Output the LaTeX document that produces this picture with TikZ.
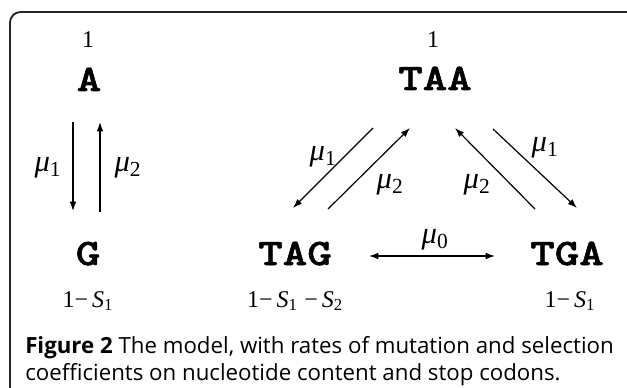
\documentclass[tikz,border=0pt]{standalone}
\usepackage{fontspec}
\setmainfont{Liberation Serif}
\newfontfamily\capfont{Open Sans}
\newfontfamily\codonfont{lmmonolt10-bold}[Extension=.otf, FakeBold=1.6, FakeStretch=1.25]
\usetikzlibrary{calc, arrows.meta}

\newcommand{\murate}[1]{\textit{μ}\textsubscript{#1}}
\newcommand{\selco}[1]{\textit{S}\textsubscript{#1}}

\begin{document}
\begin{tikzpicture}[x=0.75pt, y=-0.75pt, >={Latex[length=7pt, width=5pt]},
		codon/.style={font=\fontsize{28}{28}\selectfont\codonfont, inner sep=0, anchor=base},
		fitness/.style={font=\fontsize{18}{18}\selectfont, inner sep=0, anchor=base},
		mu/.style={font=\fontsize{23}{23}\selectfont, inner sep=0},
		move/.style={line width=0.9pt},
		caption/.style={font=\fontsize{16.7}{20}\selectfont\capfont, inner sep=0, anchor=base west}]
		\useasboundingbox (0,0) rectangle (627,388);
		\draw[line width=1.4pt, color=black!85, rounded corners=8pt] (10,395) -- (10,12) -- (635,12);

		% nucleotides
		\node[fitness] (oneA) at (88,48) {1};
		\node[codon] (A) at (89,91) {A};
		\node[codon] (G) at (88,265) {G};
		\node[fitness] (fitG) at (88,307) {1−\,\selco{1}};

		\draw[move, ->] ($(A.base)+(-16,31)$) -- ($(G.base)+(-15,-54)$);
		\draw[move, ->] ($(G.base)+(12,-53)$) -- ($(A.base)+(11,31)$);
		\node[mu] (muAG) at (48,168) {\murate{1}};
		\node[mu] (muGA) at (128,168) {\murate{2}};

		% stop codons
		\node[fitness] (oneTAA) at (433,48) {1};
		\node[codon] (TAA) at (435,90) {TAA};
		\node[codon] (TAG) at (295,265) {TAG};
		\node[codon] (TGA) at (567,265) {TGA};
		\node[fitness] (fitTAG) at (295,307) {1−\,\selco{1}\;−\,\selco{2}};
		\node[fitness] (fitTGA) at (570,307) {1−\,\selco{1}};

		\draw[move, ->] ($(TAA.base)+(-62,38)$) -- ($(TAG.base)+(-2,-57)$);
		\draw[move, ->] ($(TAG.base)+(33,-56)$) -- ($(TAA.base)+(-25,38)$);
		\draw[move, ->] ($(TGA.base)+(-32,-56)$) -- ($(TAA.base)+(20,38)$);
		\draw[move, ->] ($(TAA.base)+(58,39)$) -- ($(TGA.base)+(10,-57)$);
		\draw[move, <->] ($(TAG.base)+(74,-9)$) -- ($(TGA.base)+(-72,-9)$);

		\node[mu] (muTAAG) at (323,157) {\murate{1}};
		\node[mu] (muTAGA) at (390,185) {\murate{2}};
		\node[mu] (muTGAA) at (477,185) {\murate{2}};
		\node[mu] (muTAAGA) at (545,148) {\murate{1}};
		\node[mu] (muSwap) at (435,240) {\murate{0}};

		% caption
		\node[caption] (cap1) at (25,353) {\textbf{Figure 2} The model, with rates of mutation and selection};
		\node[caption] (cap2) at (25,380) {coefficients on nucleotide content and stop codons.};
	\end{tikzpicture}
\end{document}
